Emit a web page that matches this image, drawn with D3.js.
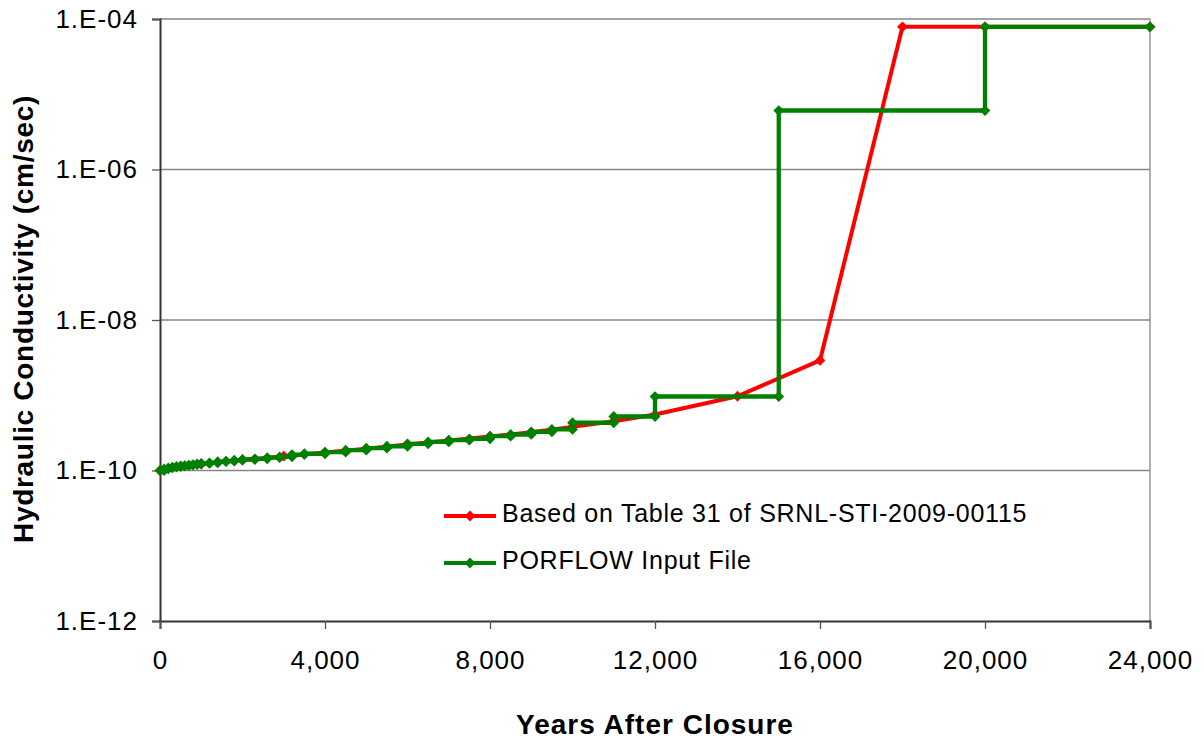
<!DOCTYPE html>
<html>
<head>
<meta charset="utf-8">
<script src="https://cdn.jsdelivr.net/npm/d3@7"></script>
<style>
  html, body { margin: 0; padding: 0; background: #fff; }
  svg { display: block; }
  text { font-family: Arial, "Liberation Sans", sans-serif; fill: #000; }
</style>
</head>
<body>
<svg id="chart" width="1204" height="740"></svg>
<script>
// ---- Data ----
const redYears = [0, 1000, 2000, 3000, 4000, 5000, 6000, 7000, 8000, 9000, 10000, 11000, 12000, 14000, 16000, 18000, 20000, 24000];
const redK = [1.00e-10, 1.22e-10, 1.38e-10, 1.55e-10, 1.73e-10, 1.95e-10, 2.22e-10, 2.50e-10, 2.83e-10, 3.22e-10, 3.80e-10, 4.50e-10, 5.54e-10, 9.7e-10, 2.90e-9, 7.87e-5, 7.87e-5, 7.87e-5];

// PORFLOW step function: value applies from breakpoint to next breakpoint
const greenYears = [0, 100, 200, 300, 400, 500, 600, 700, 800, 900, 1000, 1200, 1400, 1600, 1800, 2000, 2300, 2600, 2900, 3200, 3500, 4000, 4500, 5000, 5500, 6000, 6500, 7000, 7500, 8000, 8500, 9000, 9500, 10000, 11000, 12000, 15000, 20000, 24000];
const greenK = [1.00e-10, 1.05e-10, 1.08e-10, 1.11e-10, 1.13e-10, 1.15e-10, 1.16e-10, 1.18e-10, 1.20e-10, 1.22e-10, 1.24e-10, 1.26e-10, 1.31e-10, 1.33e-10, 1.37e-10, 1.40e-10, 1.43e-10, 1.48e-10, 1.52e-10, 1.63e-10, 1.67e-10, 1.75e-10, 1.86e-10, 1.98e-10, 2.10e-10, 2.26e-10, 2.40e-10, 2.53e-10, 2.64e-10, 2.86e-10, 3.01e-10, 3.27e-10, 3.51e-10, 4.31e-10, 5.22e-10, 9.62e-10, 6.08e-6, 7.87e-5, 7.87e-5];

const xTicks = [0, 4000, 8000, 12000, 16000, 20000, 24000];
const yTicks = [1e-12, 1e-10, 1e-8, 1e-6, 1e-4];
const seriesNames = ["Based on Table 31 of SRNL-STI-2009-00115", "PORFLOW Input File"];
const xTitle = "Years After Closure";
const yTitle = "Hydraulic Conductivity (cm/sec)";

// ---- Build point lists ----
const redPts = redYears.map((t, i) => ({ t, k: redK[i] }));
const greenPts = [];
greenYears.forEach((t, i) => {
  if (i > 0) greenPts.push({ t, k: greenK[i - 1] });
  if (i < greenYears.length - 1) greenPts.push({ t, k: greenK[i] });
});

// ---- Layout ----
const svg = d3.select("#chart");
const L = 160, R = 1150, T = 19, B = 621;
const x = d3.scaleLinear().domain([0, 24000]).range([L, R]);
const y = d3.scaleLog().domain([1e-12, 1e-4]).range([B, T]);

const fmtY = d => {
  const e = Math.round(Math.log10(d));
  const s = e < 0 ? "-" : "+";
  return "1.E" + s + String(Math.abs(e)).padStart(2, "0");
};

// Gridlines
svg.append("g").selectAll("line").data(yTicks.filter(d => d > 1e-12)).join("line")
  .attr("x1", L).attr("x2", R)
  .attr("y1", d => y(d)).attr("y2", d => y(d))
  .attr("stroke", "#868686").attr("stroke-width", 1.3);
// right border
svg.append("line").attr("x1", R).attr("x2", R).attr("y1", T).attr("y2", B)
  .attr("stroke", "#868686").attr("stroke-width", 1.3);

// Axes
const yAxis = d3.axisLeft(y).tickValues(yTicks).tickFormat(fmtY).tickSize(8).tickPadding(14);
const gy = svg.append("g").attr("transform", `translate(${L},0)`).call(yAxis);
gy.select(".domain").attr("stroke", "#333").attr("stroke-width", 2);
gy.selectAll(".tick line").attr("stroke", "#555").attr("stroke-width", 1.3);
gy.selectAll(".tick text").attr("font-size", 26).attr("letter-spacing", "1px")
  .attr("font-family", "Arial, 'Liberation Sans', sans-serif").attr("fill", "#000");

const xAxis = d3.axisBottom(x).tickValues(xTicks).tickFormat(d3.format(",")).tickSize(8).tickPadding(22);
const gx = svg.append("g").attr("transform", `translate(0,${B})`).call(xAxis);
gx.select(".domain").attr("stroke", "#333").attr("stroke-width", 2);
gx.selectAll(".tick line").attr("stroke", "#555").attr("stroke-width", 1.3);
gx.selectAll(".tick text").attr("font-size", 26).attr("letter-spacing", "1px")
  .attr("font-family", "Arial, 'Liberation Sans', sans-serif").attr("fill", "#000");

// Lines
const line = d3.line().x(d => x(d.t)).y(d => y(d.k));
const diamond = d3.symbol().type(d3.symbolSquare).size(58);

function drawSeries(pts, color, width) {
  svg.append("path").datum(pts).attr("d", line)
    .attr("fill", "none").attr("stroke", color).attr("stroke-width", width)
    .attr("stroke-linejoin", "round");
  svg.append("g").selectAll("path").data(pts).join("path")
    .attr("d", diamond)
    .attr("transform", d => `translate(${x(d.t)},${y(d.k)}) rotate(45)`)
    .attr("fill", color);
}
drawSeries(redPts, "#ff0000", 4);
drawSeries(greenPts, "#008000", 4.3);

// Legend
const legend = [{ name: seriesNames[0], color: "#ff0000", yy: 516 }, { name: seriesNames[1], color: "#008000", yy: 563 }];
const lg = svg.append("g");
legend.forEach(it => {
  lg.append("line").attr("x1", 444).attr("x2", 496).attr("y1", it.yy).attr("y2", it.yy)
    .attr("stroke", it.color).attr("stroke-width", 4);
  lg.append("path").attr("d", diamond).attr("transform", `translate(470,${it.yy}) rotate(45)`).attr("fill", it.color);
  lg.append("text").attr("x", 502).attr("y", it.yy + 6).attr("font-size", 25)
    .attr("letter-spacing", "0.75px").text(it.name);
});

// Axis titles
svg.append("text").attr("x", 655).attr("y", 734).attr("text-anchor", "middle")
  .attr("font-size", 28).attr("font-weight", "bold").attr("letter-spacing", "1px").text(xTitle);
svg.append("text").attr("transform", "translate(33,319) rotate(-90)").attr("text-anchor", "middle")
  .attr("font-size", 28).attr("font-weight", "bold").attr("letter-spacing", "0.7px").text(yTitle);
</script>
</body>
</html>
